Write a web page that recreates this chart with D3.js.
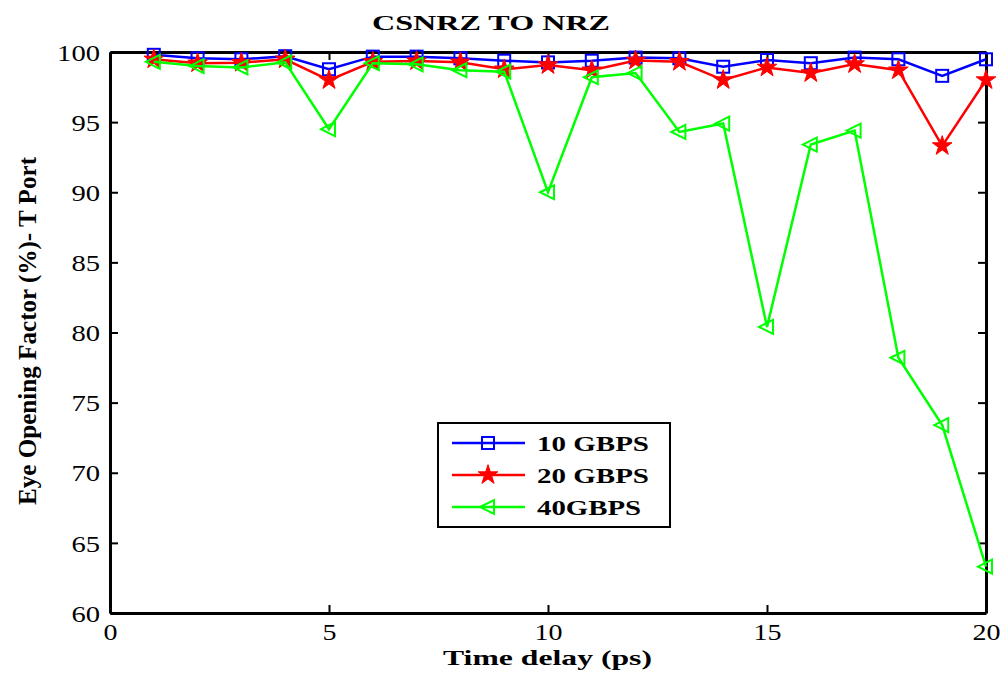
<!DOCTYPE html>
<html>
<head>
<meta charset="utf-8">
<script src="https://cdn.jsdelivr.net/npm/d3@7"></script>
<style>
  body { margin: 0; background: #fff; }
  text { font-family: "Liberation Serif", "Times New Roman", serif; }
</style>
</head>
<body>
<div id="chart"></div>
<script>
const delays = d3.range(1, 21);
const gbps10 = [99.8, 99.55, 99.48, 99.7, 98.77, 99.67, 99.67, 99.55, 99.38, 99.26,
                99.38, 99.6, 99.55, 98.95, 99.43, 99.2, 99.6, 99.48, 98.3, 99.48];
const gbps20 = [99.48, 99.2, 99.24, 99.48, 98.0, 99.3, 99.35, 99.27, 98.77, 99.07,
                98.7, 99.4, 99.3, 98.0, 98.9, 98.5, 99.14, 98.7, 93.3, 98.0];
const gbps40 = [99.3, 99.0, 98.9, 99.26, 94.5, 99.2, 99.12, 98.7, 98.6, 90.0,
                98.2, 98.5, 94.3, 94.9, 80.4, 93.4, 94.4, 78.2, 73.4, 63.3];
const seriesNames = ["10 GBPS", "20 GBPS", "40GBPS"];
const seriesColors = ["#0000ff", "#ff0000", "#00ff00"];
const xTicks = [0, 5, 10, 15, 20];
const yTicks = [60, 65, 70, 75, 80, 85, 90, 95, 100];

const width = 1005, height = 675;
const plotLeft = 110, plotRight = 986, plotTop = 52, plotBottom = 613;

const svg = d3.select("#chart").append("svg")
  .attr("width", width)
  .attr("height", height);

const x = d3.scaleLinear().domain([0, 20]).range([plotLeft, plotRight]);
const y = d3.scaleLinear().domain([60, 100]).range([plotBottom, plotTop]);

// axes: ticks point inward on all four sides
function styleAxis(g) {
  g.selectAll("path.domain").attr("stroke", "#000").attr("stroke-width", 3);
  g.selectAll(".tick line").attr("stroke", "#000").attr("stroke-width", 2);
}

svg.append("g")
  .attr("transform", `translate(0,${plotBottom})`)
  .call(d3.axisBottom(x).tickValues(xTicks).tickSize(-8).tickSizeOuter(0).tickPadding(10))
  .call(styleAxis)
  .call(g => g.selectAll("text")
    .attr("font-size", 24).attr("fill", "#000")
    .attr("textLength", d => String(d).length * 14)
    .attr("lengthAdjust", "spacingAndGlyphs"));

svg.append("g")
  .attr("transform", `translate(0,${plotTop})`)
  .call(d3.axisTop(x).tickValues(xTicks).tickSize(-8).tickSizeOuter(0).tickFormat(""))
  .call(styleAxis);

svg.append("g")
  .attr("transform", `translate(${plotLeft},0)`)
  .call(d3.axisLeft(y).tickValues(yTicks).tickSize(-8).tickSizeOuter(0).tickPadding(10))
  .call(styleAxis)
  .call(g => g.selectAll("text")
    .attr("font-size", 24).attr("fill", "#000")
    .attr("dy", "0.34em")
    .attr("textLength", d => String(d).length * 14.3)
    .attr("lengthAdjust", "spacingAndGlyphs"));

svg.append("g")
  .attr("transform", `translate(${plotRight},0)`)
  .call(d3.axisRight(y).tickValues(yTicks).tickSize(-8).tickSizeOuter(0).tickFormat(""))
  .call(styleAxis);

// titles
svg.append("text")
  .attr("x", 372).attr("y", 30)
  .attr("font-size", 22).attr("font-weight", "bold")
  .attr("textLength", 238).attr("lengthAdjust", "spacingAndGlyphs")
  .text("CSNRZ TO NRZ");

svg.append("text")
  .attr("x", 443).attr("y", 665)
  .attr("font-size", 22).attr("font-weight", "bold")
  .attr("textLength", 209).attr("lengthAdjust", "spacingAndGlyphs")
  .text("Time delay (ps)");

svg.append("text")
  .attr("transform", "translate(36,505) rotate(-90)")
  .attr("font-size", 25).attr("font-weight", "bold")
  .attr("textLength", 348).attr("lengthAdjust", "spacingAndGlyphs")
  .text("Eye Opening Factor (%)- T Port");

// markers
const starPath = d3.symbol(d3.symbolStar, 120)();
function drawMarker(sel, i) {
  if (i === 0) {
    sel.append("rect")
      .attr("x", -6).attr("y", -6).attr("width", 12).attr("height", 12)
      .attr("fill", "none").attr("stroke", seriesColors[0]).attr("stroke-width", 2);
  } else if (i === 1) {
    sel.append("path").attr("d", starPath)
      .attr("fill", seriesColors[1]).attr("stroke", seriesColors[1]).attr("stroke-width", 1);
  } else {
    sel.append("path").attr("d", "M-8,0L6,-7L6,7Z")
      .attr("fill", "none").attr("stroke", seriesColors[2]).attr("stroke-width", 2);
  }
}

const allSeries = [gbps10, gbps20, gbps40];
const line = d3.line().x((d, i) => x(delays[i])).y(d => y(d));

allSeries.forEach((vals, i) => {
  svg.append("path")
    .datum(vals)
    .attr("fill", "none")
    .attr("stroke", seriesColors[i])
    .attr("stroke-width", 2.5)
    .attr("d", line);
  svg.append("g").selectAll("g")
    .data(vals)
    .join("g")
    .attr("transform", (d, j) => `translate(${x(delays[j])},${y(d)})`)
    .each(function () { drawMarker(d3.select(this), i); });
});

// legend
const legend = svg.append("g");
legend.append("rect")
  .attr("x", 438).attr("y", 423).attr("width", 232).attr("height", 104)
  .attr("fill", "#fff").attr("stroke", "#000").attr("stroke-width", 2);
const legendWidths = [112, 112, 104];
seriesNames.forEach((name, i) => {
  const ry = 443 + i * 32;
  legend.append("line")
    .attr("x1", 452).attr("x2", 525).attr("y1", ry).attr("y2", ry)
    .attr("stroke", seriesColors[i]).attr("stroke-width", 2.5);
  drawMarker(legend.append("g").attr("transform", `translate(488,${ry})`), i);
  legend.append("text")
    .attr("x", 537).attr("y", ry + 8)
    .attr("font-size", 21).attr("font-weight", "bold")
    .attr("textLength", legendWidths[i]).attr("lengthAdjust", "spacingAndGlyphs")
    .text(name);
});
</script>
</body>
</html>
